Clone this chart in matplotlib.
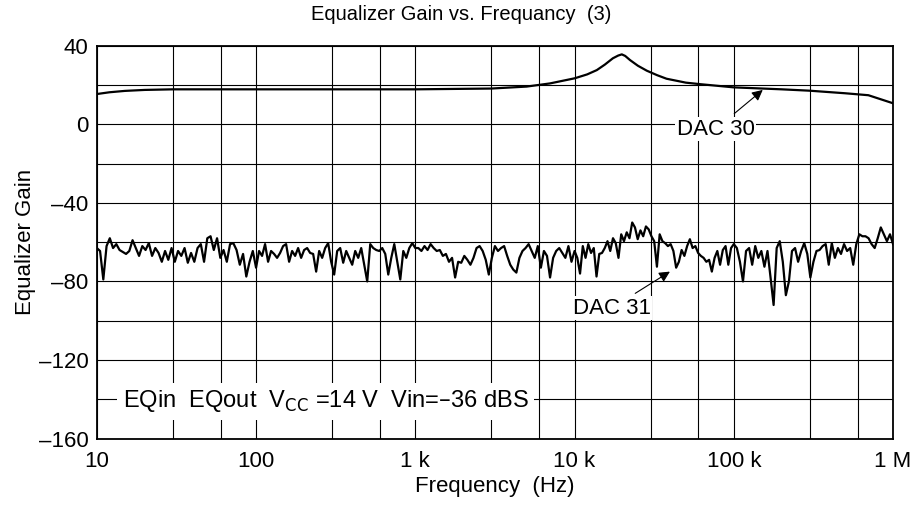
import matplotlib
matplotlib.use('Agg')
import matplotlib.pyplot as plt
import numpy as np

plt.rcParams['font.family'] = ['Liberation Sans', 'DejaVu Sans']

# DAC 30 response (Hz, dB)
dac30_freq = [10, 12, 15, 20, 30, 50, 100, 300, 1000, 3000, 5000, 7000, 10000, 12000,
              13800, 15500, 17400, 18800, 19800, 20800, 22300, 25000, 28400, 33000,
              37800, 50000, 62000, 100000, 200000, 300000, 500000, 700000, 1000000]
dac30_gain = [15.4, 16.3, 17.0, 17.5, 17.8, 17.8, 17.8, 17.8, 17.8, 18.2, 19.2, 20.8, 23.4, 25.4,
              27.6, 30.4, 33.6, 35.0, 35.6, 34.8, 32.7, 29.8, 27.3, 25.0,
              23.2, 21.2, 20.4, 18.8, 17.8, 17.1, 15.8, 14.8, 10.7]

# DAC 31 noise floor, one list per decade (values in dB)
dac31_dec1 = [-63, -64.5, -79, -62, -58, -63, -61, -64, -65, -66, -64.5, -59, -63, -67,
              -62, -64, -60.5, -67, -63, -65.5, -70, -64.5, -69, -63, -70, -64.5, -67,
              -63, -70.5, -65.5, -70, -63, -61, -70, -58, -57, -64, -58, -68, -64, -70,
              -61, -60.5, -64, -71.5, -66, -77.5, -70, -64.5]
dac31_dec2 = [-73, -64.5, -67, -61, -70, -64.5, -66, -68, -65.5, -62, -61, -70, -64.5,
              -67, -63, -68, -64, -63, -65.5, -66, -75, -64.5, -68, -63, -60.5, -70,
              -76.5, -64.5, -63, -70.5, -64.5, -68, -71.5, -64.5, -68, -63, -71.5, -80,
              -61, -63, -64, -64.5, -63, -66, -76.5, -68, -61, -70, -79, -64.5, -68,
              -63, -60.5]
dac31_dec3 = [-63, -63, -64.5, -62, -64, -61, -63, -64.5, -64, -67, -66, -70, -68, -78,
              -70, -70.5, -67, -69, -71.5, -68, -63, -62, -64.5, -69, -76.5, -68, -62,
              -64.5, -63, -62, -67, -71.5, -74, -75.5, -68, -64.5, -63, -61, -64.5, -68,
              -62, -73, -64.5, -67, -78, -68, -64.5, -63, -65.5, -68, -62, -70]
dac31_dec4 = [-64.5, -68, -76, -62, -68, -61, -65.5, -63, -77.5, -66, -65.5, -63, -59.5,
              -64.5, -58, -60.5, -68, -56, -59.5, -55, -58, -50, -52.5, -58.5, -54, -57,
              -52, -53.5, -57, -59.5, -72.5, -56, -59.5, -60.5, -62, -61, -64.5, -73,
              -70, -64, -67, -62, -58.5, -63, -62, -65.5, -67, -68, -70, -69, -75, -68,
              -64.5, -71.5, -64, -62, -71.5, -63]
dac31_dec5 = [-61, -63, -70, -80, -64.5, -63, -71.5, -62, -68, -64.5, -72.5, -64.5, -78,
              -92, -63, -59.5, -70, -87, -80, -64.5, -63, -70, -64.5, -60.5, -66, -78,
              -70, -64.5, -64, -62, -61, -71.5, -60.5, -68, -63, -66, -61, -64.5, -63,
              -71.5, -61, -56, -57, -57, -58, -61, -63, -58, -52.5, -56, -59.5, -56]

x_ticks = [10, 100, 1e3, 1e4, 1e5, 1e6]
x_labels = ['10', '100', '1 k', '10 k', '100 k', '1 M']
y_ticks = [-160, -120, -80, -40, 0, 40]
y_labels = ['\u2013160', '\u2013120', '\u201380', '\u201340', '0', '40']

decades = [dac31_dec1, dac31_dec2, dac31_dec3, dac31_dec4, dac31_dec5]
dac31_freq = []
dac31_gain = []
for k, d in enumerate(decades):
    dac31_freq += list(np.logspace(1 + k, 2 + k, len(d), endpoint=False))
    dac31_gain += d
dac31_freq.append(1e6)
dac31_gain.append(-61)

fs = 16
fig = plt.figure(figsize=(9.22, 5.12), dpi=100)
ax = fig.add_axes([0.105, 0.1434, 0.8636, 0.7673])

ax.plot(dac30_freq, dac30_gain, color='black', lw=1.6, zorder=3)
ax.plot(dac31_freq, dac31_gain, color='black', lw=1.6, zorder=3)

ax.set_xscale('log')
ax.set_xlim(10, 1e6)
ax.set_ylim(-160, 40)

# grid at 1, 3, 6 per decade and every 20 dB
minor_x = [m * 10 ** k for k in range(1, 6) for m in (3, 6)]
ax.set_xticks(x_ticks)
ax.set_xticklabels(x_labels)
ax.set_xticks(minor_x, minor=True)
ax.xaxis.set_minor_formatter(plt.NullFormatter())
ax.set_yticks(y_ticks)
ax.set_yticklabels(y_labels)
ax.set_yticks(np.arange(-160, 41, 20), minor=True)
ax.grid(True, which='both', color='black', lw=0.8, zorder=1)
ax.tick_params(which='both', length=0, labelsize=fs)
ax.tick_params(axis='x', pad=9)
ax.tick_params(axis='y', pad=6)
for s in ax.spines.values():
    s.set_linewidth(1.3)

fig.text(0.5, 1 - 15 / 512, 'Equalizer Gain vs. Frequancy  (3)', fontsize=14.5,
         ha='center', va='center')
ax.set_xlabel('Frequency  (Hz)', fontsize=fs, labelpad=3)
ax.set_ylabel('Equalizer Gain', fontsize=fs, labelpad=2)

box = dict(facecolor='white', edgecolor='none', pad=1)
ax.annotate('DAC 30', xy=(1.52e5, 17.5), xytext=(7.7e4, -2.4), fontsize=fs,
            ha='center', va='center', bbox=box, zorder=4,
            arrowprops=dict(arrowstyle='-|>', color='black', lw=0.8,
                            mutation_scale=16, shrinkA=4, shrinkB=0))
ax.annotate('DAC 31', xy=(3.97e4, -75), xytext=(1.71e4, -93.6), fontsize=fs,
            ha='center', va='center', bbox=box, zorder=4,
            arrowprops=dict(arrowstyle='-|>', color='black', lw=0.8,
                            mutation_scale=16, shrinkA=4, shrinkB=0))
ax.text(14.6, -141, 'EQin  EQout  V$_{\\mathrm{CC}}$ =14 V  Vin=\u201336 dBS',
        fontsize=17, ha='left', va='center', zorder=4,
        bbox=dict(facecolor='white', edgecolor='none', pad=4))

fig.savefig('out.png', dpi=100)
